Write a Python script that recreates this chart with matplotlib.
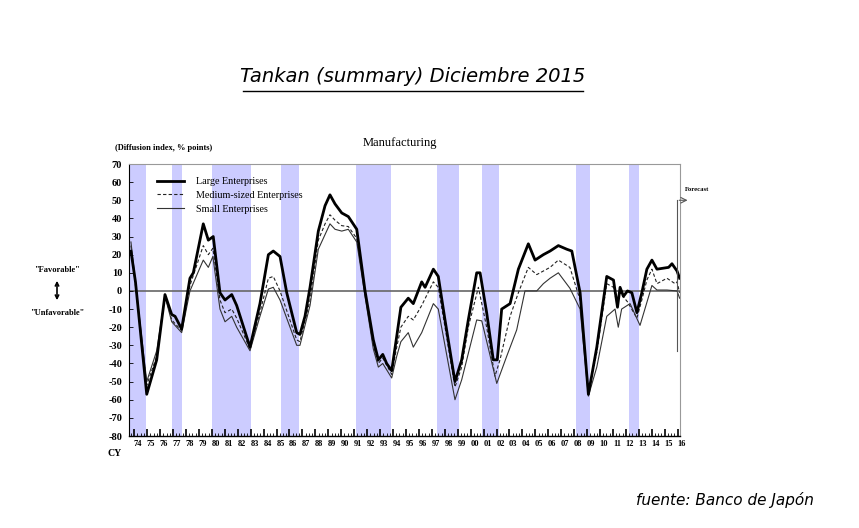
import matplotlib.pyplot as plt
from matplotlib.lines import Line2D
from matplotlib.transforms import blended_transform_factory

# Tankan manufacturing DI (fechas en años decimales)
large_x = [1973.75, 1974.10, 1974.97, 1975.74, 1976.38, 1976.90, 1977.16, 1977.67, 1978.31, 1978.57,
           1979.34, 1979.73, 1980.11, 1980.63, 1981.02, 1981.54, 1981.92, 1982.95, 1983.72, 1984.37,
           1984.75, 1985.27, 1985.79, 1986.56, 1986.81, 1987.20, 1987.59, 1988.23, 1988.75, 1989.13,
           1989.52, 1990.04, 1990.55, 1991.20, 1991.84, 1992.48, 1992.87, 1993.21, 1993.51, 1993.90,
           1994.29, 1994.61, 1995.18, 1995.57, 1996.22, 1996.48, 1997.12, 1997.50, 1998.02, 1998.79,
           1999.31, 1999.82, 2000.47, 2000.73, 2001.24, 2001.75, 2002.06, 2002.40, 2003.05, 2003.69,
           2004.46, 2004.98, 2005.62, 2006.14, 2006.78, 2007.43, 2007.82, 2008.46, 2009.10, 2009.75,
           2010.52, 2011.04, 2011.35, 2011.55, 2011.81, 2012.12, 2012.46, 2012.85, 2013.23, 2013.62,
           2014.01, 2014.40, 2015.30, 2015.56, 2015.95, 2016.15]
large_y = [22, 5, -57, -38, -2, -13, -14, -21, 7, 10,
           37, 28, 30, -1, -5, -2, -8, -31, -7, 20,
           22, 19, -1, -23, -24, -14, 2, 33, 47, 53,
           48, 43, 41, 34, 0, -27, -38, -35, -40, -44,
           -25, -9, -4, -7, 5, 2, 12, 8, -16, -50,
           -38, -16, 10, 10, -12, -38, -38, -10, -7, 12,
           26, 17, 20, 22, 25, 23, 22, -1, -57, -31,
           8, 6, -9, 2, -3, 0, -1, -12, -1, 12,
           17, 12, 13, 15, 11, 7]

medium_x = [1973.75, 1974.97, 1975.74, 1976.38, 1976.90, 1977.67, 1978.31, 1979.34, 1979.73, 1980.08,
            1980.63, 1981.02, 1981.54, 1981.92, 1982.95, 1983.72, 1984.37, 1984.75, 1985.27, 1986.56,
            1986.81, 1987.59, 1988.23, 1988.75, 1989.13, 1989.52, 1990.04, 1990.55, 1991.20, 1991.84,
            1992.48, 1992.87, 1993.21, 1993.90, 1994.29, 1994.61, 1995.18, 1995.57, 1996.22, 1997.12,
            1997.50, 1998.02, 1998.79, 1999.31, 1999.82, 2000.60, 2001.24, 2001.88, 2002.27, 2003.05,
            2003.69, 2004.46, 2005.11, 2006.14, 2006.78, 2007.67, 2008.46, 2009.10, 2009.75, 2010.52,
            2011.04, 2011.30, 2011.55, 2012.12, 2012.85, 2013.23, 2013.62, 2014.01, 2014.40, 2015.17,
            2015.80, 2015.95, 2016.15]
medium_y = [25, -52, -36, -2, -16, -22, 3, 25, 20, 23.5,
            -5, -12, -10, -15, -32, -12, 7, 8, 0, -27,
            -28, -5, 28, 37, 42, 39, 36, 35.5, 29, -1,
            -30, -40, -37, -46, -31, -20, -14, -16, -8, 5,
            2, -20, -53, -42, -20, 2, -20, -47, -38, -14,
            -1, 13, 9, 13, 17, 13, -5, -56, -34, 4,
            2, -7, -1, -6, -15, -5, 6, 12, 4, 7,
            4, 5, -1]

small_x = [1973.75, 1974.97, 1975.74, 1976.38, 1976.90, 1977.67, 1978.31, 1979.34, 1979.73, 1980.08,
           1980.63, 1981.02, 1981.54, 1981.92, 1982.95, 1983.72, 1984.37, 1984.75, 1985.27, 1986.56,
           1986.81, 1987.59, 1988.23, 1989.13, 1989.52, 1990.04, 1990.55, 1991.20, 1991.84, 1992.48,
           1992.87, 1993.21, 1993.90, 1994.29, 1994.61, 1995.18, 1995.57, 1996.22, 1997.12, 1997.50,
           1998.79, 1999.31, 2000.47, 2000.86, 2002.02, 2002.79, 2003.56, 2004.20, 2005.11, 2005.62,
           2006.14, 2006.78, 2007.67, 2008.46, 2009.10, 2009.75, 2010.52, 2011.16, 2011.41, 2011.67,
           2012.32, 2013.09, 2014.01, 2014.40, 2015.17, 2015.95, 2016.15]
small_y = [27, -50, -33, -3, -17, -23, 0, 17, 13, 19,
           -10, -17, -14, -20, -33, -14, 1, 2, -5, -30,
           -30, -8, 23, 37, 34, 33, 34, 27, -3, -32,
           -42, -40, -48, -36, -28, -23, -31, -23, -7, -10,
           -60, -49, -16, -16.5, -51, -36, -21.5, 0, 0, 4,
           7, 10, 1.5, -10, -58, -42, -14, -10, -20, -10,
           -7, -19, 3, 0.5, 0.5, 0, -4]

# periodos de recesion (sombreado)
bands = [(1973.6, 1974.91), (1976.92, 1977.70), (1980.01, 1983.03), (1985.35, 1986.74),
         (1991.14, 1993.85), (1997.40, 1999.10), (2000.88, 2002.19), (2008.14, 2009.23),
         (2012.24, 2013.01)]

years = list(range(1974, 2017))
year_labels = ['%02d' % (y % 100) for y in years]
yticks = list(range(-80, 71, 10))

serif = 'Liberation Serif'

fig = plt.figure(figsize=(8.59, 5.28), dpi=100)
ax = fig.add_axes([129 / 859, 1 - 436 / 528, 551 / 859, 272 / 528])

for a, b in bands:
    ax.axvspan(a, b, color='#ccccff', lw=0, zorder=0)
ax.axhline(0, color='#666666', lw=1.2, zorder=1)

ax.plot(large_x, large_y, color='black', lw=2.0, label='Large Enterprises', zorder=4)
ax.plot(medium_x, medium_y, color='#222222', lw=0.8, ls=(0, (3, 2)),
        label='Medium-sized Enterprises', zorder=3)
ax.plot(small_x, small_y, color='#333333', lw=0.8, label='Small Enterprises', zorder=3)

ax.set_xlim(1973.6, 2016.18)
ax.set_ylim(-80, 70)
ax.set_yticks(yticks)
ax.set_yticklabels([str(v) for v in yticks], fontfamily=serif, fontweight='bold', fontsize=7.5)
ax.set_xticks(years)
ax.set_xticks([y + q / 4 for y in range(1973, 2017) for q in (1, 2, 3)
               if 1973.6 < y + q / 4 < 2016.18], minor=True)
ax.set_xticklabels([])
ax.tick_params(axis='y', direction='in', length=3, width=0.6, pad=5)
ax.tick_params(axis='x', which='major', direction='in', length=5, width=1.2)
ax.tick_params(axis='x', which='minor', direction='in', length=2.5, width=0.6)

for side in ['top', 'right']:
    ax.spines[side].set_color('#999999')
    ax.spines[side].set_linewidth(0.8)
ax.spines['left'].set_linewidth(0.8)
ax.spines['bottom'].set_linewidth(1.0)

trans = blended_transform_factory(ax.transData, ax.transAxes)
for y, lab in zip(years, year_labels):
    ax.text(y + 0.3, -0.03, lab, transform=trans, ha='center', va='center',
            fontfamily=serif, fontweight='bold', fontsize=6)
fig.text(115 / 859, 1 - 453 / 528, 'CY', ha='center', va='center',
         fontfamily=serif, fontweight='bold', fontsize=7)

leg = ax.legend(loc='upper left', bbox_to_anchor=(0.035, 0.985), frameon=False,
                prop={'family': serif, 'size': 7.3}, handlelength=2.6,
                labelspacing=0.45, handletextpad=1.2)

# linea de pronostico
ax.plot([2015.95, 2015.95], [-33, 50], color='#555555', lw=0.8, clip_on=False, zorder=5)
ax.annotate('', xy=(2016.98, 50), xytext=(2015.9, 50), annotation_clip=False,
            arrowprops=dict(arrowstyle='->', lw=0.8, color='#555555'))
ax.text(2016.55, 56, 'Forecast', fontfamily=serif, fontweight='bold', fontsize=4.8,
        ha='left', va='center', clip_on=False)

fig.text(400 / 859, 1 - 143 / 528, 'Manufacturing', ha='center', va='center',
         fontfamily=serif, fontsize=9)
fig.text(115 / 859, 1 - 148 / 528, '(Diffusion index, % points)', ha='left', va='center',
         fontfamily=serif, fontweight='bold', fontsize=6)

fig.text(57 / 859, 1 - 270 / 528, '"Favorable"', ha='center', va='center',
         fontfamily=serif, fontweight='bold', fontsize=6)
fig.text(57 / 859, 1 - 313 / 528, '"Unfavorable"', ha='center', va='center',
         fontfamily=serif, fontweight='bold', fontsize=6)
fig.add_artist(plt.Annotation('', xy=(57 / 859, 1 - 278 / 528), xytext=(57 / 859, 1 - 303 / 528),
                              xycoords='figure fraction', textcoords='figure fraction',
                              arrowprops=dict(arrowstyle='<->', lw=1.2, color='black',
                                              mutation_scale=6)))

fig.text(413 / 859, 1 - 77 / 528, 'Tankan (summary) Diciembre 2015', ha='center', va='center',
         fontfamily='DejaVu Sans', style='italic', fontweight='light', fontsize=14)
fig.add_artist(Line2D([243 / 859, 583 / 859], [1 - 91 / 528, 1 - 91 / 528], color='black', lw=1))
fig.text(725 / 859, 1 - 500 / 528, 'fuente: Banco de Japón', ha='center', va='center',
         fontfamily='DejaVu Sans', style='italic', fontweight='light', fontsize=11)

fig.savefig('out.png', dpi=100)
